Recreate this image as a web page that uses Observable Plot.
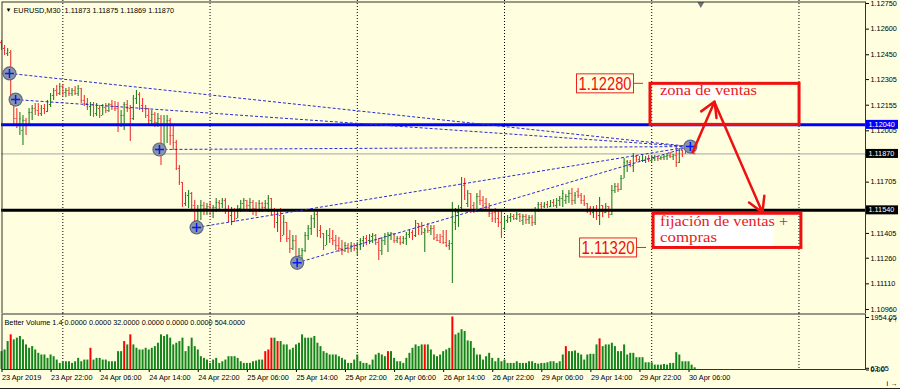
<!DOCTYPE html>
<html lang="es">
<head>
<meta charset="utf-8">
<script src="https://cdn.jsdelivr.net/npm/d3@7"></script>
<script src="https://cdn.jsdelivr.net/npm/@observablehq/plot@0.6"></script>
<style>
html,body{margin:0;padding:0;background:#ffffe0;}
#chart{position:relative;width:900px;height:392px;overflow:hidden;background:#ffffe0;}
#main{position:absolute;left:0;top:0;}
#vol{position:absolute;left:0;top:313px;}
#tabs{position:absolute;left:0;top:388px;width:900px;height:4px;border-top:1px solid #222;background:#fff;}
</style>
</head>
<body>
<div id="chart"><div id="main"></div><div id="vol"></div><div id="tabs"></div></div>
<script>
// ---------- DATA (EURUSD M30, bar index 0 = 23 Apr 2019 14:00) ----------
const opens = [
1.12522,1.12487,1.12458,1.12463,1.12171,1.12077,1.12036,1.12007,1.12066,1.12036,
1.12112,1.12136,1.12124,1.12106,1.12136,1.12118,1.12159,1.12212,1.12241,1.12224,
1.12265,1.12229,1.12241,1.12224,1.12241,1.12224,1.12253,1.12183,1.12165,1.12147,
1.12159,1.12106,1.12136,1.12095,1.12142,1.12124,1.12159,1.12147,1.12136,1.12036,
1.12095,1.12159,1.12136,1.12077,1.12194,1.12218,1.12153,1.12136,1.12095,1.12066,
1.12101,1.12054,1.12077,1.11890,1.12036,1.12066,1.11978,1.11937,1.11785,1.11703,
1.11580,1.11627,1.11639,1.11568,1.11481,1.11539,1.11568,1.11551,1.11562,1.11539,
1.11557,1.11586,1.11580,1.11598,1.11539,1.11510,1.11539,1.11492,1.11551,1.11580,
1.11598,1.11568,1.11586,1.11551,1.11539,1.11580,1.11557,1.11580,1.11609,1.11539,
1.11469,1.11510,1.11393,1.11469,1.11375,1.11317,1.11363,1.11258,1.11276,1.11305,
1.11393,1.11434,1.11492,1.11516,1.11422,1.11404,1.11334,1.11393,1.11375,1.11363,
1.11334,1.11317,1.11305,1.11334,1.11317,1.11334,1.11317,1.11340,1.11363,1.11375,
1.11363,1.11387,1.11393,1.11352,1.11305,1.11363,1.11387,1.11399,1.11404,1.11363,
1.11375,1.11352,1.11375,1.11399,1.11410,1.11393,1.11463,1.11445,1.11410,1.11445,
1.11422,1.11434,1.11381,1.11363,1.11387,1.11352,1.11334,1.11346,1.11469,1.11527,
1.11557,1.11685,1.11580,1.11639,1.11568,1.11539,1.11621,1.11598,1.11580,1.11557,
1.11521,1.11527,1.11492,1.11469,1.11434,1.11481,1.11498,1.11504,1.11492,1.11516,
1.11481,1.11504,1.11486,1.11498,1.11469,1.11539,1.11574,1.11562,1.11574,1.11562,
1.11586,1.11568,1.11598,1.11609,1.11598,1.11621,1.11639,1.11598,1.11650,1.11627,
1.11598,1.11580,1.11551,1.11527,1.11539,1.11510,1.11568,1.11527,1.11562,1.11516,
1.11656,1.11680,1.11662,1.11726,1.11802,1.11820,1.11802,1.11855,1.11837,1.11832,
1.11832,1.11843,1.11832,1.11843,1.11855,1.11843,1.11849,1.11855,1.11861,1.11855,
1.11861,1.11820,1.11890,1.11896,1.11878,1.11902,1.11873];
const highs = [
1.12534,1.12504,1.12487,1.12475,1.12194,1.12136,1.12112,1.12095,1.12077,1.12136,
1.12153,1.12165,1.12165,1.12153,1.12159,1.12183,1.12224,1.12253,1.12270,1.12282,
1.12276,1.12253,1.12259,1.12253,1.12265,1.12270,1.12253,1.12212,1.12194,1.12171,
1.12171,1.12165,1.12153,1.12159,1.12165,1.12165,1.12183,1.12177,1.12171,1.12124,
1.12171,1.12183,1.12153,1.12212,1.12241,1.12229,1.12194,1.12153,1.12136,1.12124,
1.12112,1.12106,1.12095,1.12095,1.12095,1.12077,1.12036,1.11949,1.11802,1.11703,
1.11644,1.11656,1.11644,1.11598,1.11568,1.11598,1.11586,1.11580,1.11586,1.11568,
1.11609,1.11598,1.11609,1.11609,1.11568,1.11557,1.11551,1.11568,1.11598,1.11609,
1.11598,1.11609,1.11598,1.11586,1.11598,1.11586,1.11598,1.11627,1.11609,1.11551,
1.11539,1.11551,1.11510,1.11469,1.11422,1.11393,1.11393,1.11317,1.11317,1.11410,
1.11451,1.11510,1.11527,1.11539,1.11451,1.11404,1.11422,1.11434,1.11422,1.11393,
1.11381,1.11363,1.11352,1.11346,1.11352,1.11346,1.11352,1.11375,1.11387,1.11393,
1.11399,1.11404,1.11399,1.11375,1.11381,1.11404,1.11410,1.11410,1.11404,1.11387,
1.11387,1.11387,1.11410,1.11422,1.11422,1.11481,1.11463,1.11469,1.11434,1.11463,
1.11451,1.11451,1.11399,1.11399,1.11422,1.11422,1.11363,1.11586,1.11551,1.11568,
1.11732,1.11726,1.11656,1.11639,1.11586,1.11639,1.11656,1.11621,1.11609,1.11580,
1.11539,1.11551,1.11539,1.11539,1.11498,1.11510,1.11521,1.11516,1.11527,1.11521,
1.11516,1.11516,1.11510,1.11510,1.11557,1.11586,1.11586,1.11586,1.11592,1.11598,
1.11603,1.11609,1.11621,1.11656,1.11633,1.11656,1.11668,1.11644,1.11668,1.11639,
1.11627,1.11580,1.11562,1.11562,1.11568,1.11615,1.11568,1.11580,1.11562,1.11685,
1.11697,1.11697,1.11744,1.11843,1.11832,1.11832,1.11873,1.11861,1.11855,1.11861,
1.11855,1.11861,1.11861,1.11861,1.11855,1.11855,1.11861,1.11867,1.11878,1.11867,
1.11908,1.11902,1.11890,1.11908,1.11919,1.11919,1.11875];
const lows = [
1.12475,1.12446,1.12440,1.12153,1.12036,1.12019,1.11978,1.11919,1.11978,1.12036,
1.12066,1.12095,1.12089,1.12089,1.12101,1.12112,1.12142,1.12183,1.12206,1.12212,
1.12206,1.12200,1.12206,1.12206,1.12212,1.12206,1.12165,1.12147,1.12124,1.12089,
1.12083,1.12089,1.12077,1.12095,1.12106,1.12112,1.12124,1.12118,1.11995,1.12025,
1.12007,1.12112,1.11943,1.12066,1.12159,1.12124,1.12112,1.12077,1.12036,1.12030,
1.12025,1.12025,1.11802,1.11884,1.11931,1.11919,1.11890,1.11773,1.11685,1.11557,
1.11562,1.11551,1.11539,1.11422,1.11434,1.11481,1.11510,1.11510,1.11510,1.11492,
1.11527,1.11539,1.11551,1.11516,1.11469,1.11451,1.11469,1.11492,1.11527,1.11539,
1.11539,1.11527,1.11510,1.11504,1.11527,1.11527,1.11539,1.11527,1.11510,1.11434,
1.11410,1.11352,1.11393,1.11352,1.11287,1.11305,1.11229,1.11211,1.11205,1.11293,
1.11363,1.11393,1.11434,1.11381,1.11375,1.11305,1.11334,1.11346,1.11334,1.11305,
1.11293,1.11276,1.11293,1.11287,1.11293,1.11299,1.11276,1.11305,1.11322,1.11334,
1.11340,1.11346,1.11334,1.11246,1.11276,1.11334,1.11293,1.11363,1.11346,1.11346,
1.11334,1.11340,1.11334,1.11375,1.11363,1.11381,1.11393,1.11393,1.11293,1.11404,
1.11393,1.11363,1.11358,1.11346,1.11340,1.11322,1.11305,1.11112,1.11422,1.11440,
1.11527,1.11598,1.11557,1.11521,1.11521,1.11527,1.11568,1.11539,1.11539,1.11498,
1.11469,1.11463,1.11440,1.11375,1.11422,1.11463,1.11469,1.11481,1.11481,1.11469,
1.11451,1.11457,1.11457,1.11445,1.11451,1.11527,1.11545,1.11551,1.11551,1.11557,
1.11557,1.11551,1.11562,1.11557,1.11574,1.11580,1.11568,1.11574,1.11609,1.11574,
1.11562,1.11521,1.11510,1.11492,1.11481,1.11451,1.11498,1.11521,1.11492,1.11510,
1.11639,1.11644,1.11656,1.11726,1.11761,1.11791,1.11761,1.11820,1.11820,1.11820,
1.11814,1.11820,1.11820,1.11826,1.11826,1.11832,1.11832,1.11832,1.11843,1.11832,
1.11791,1.11814,1.11849,1.11867,1.11878,1.11878,1.11869];
const closes = [
1.12487,1.12458,1.12475,1.12183,1.12077,1.12036,1.12077,1.12066,1.12036,1.12112,
1.12136,1.12124,1.12106,1.12136,1.12118,1.12159,1.12212,1.12241,1.12224,1.12265,
1.12229,1.12241,1.12224,1.12241,1.12224,1.12253,1.12183,1.12165,1.12147,1.12159,
1.12106,1.12136,1.12095,1.12142,1.12124,1.12159,1.12147,1.12136,1.12036,1.12095,
1.12159,1.12136,1.12077,1.12194,1.12218,1.12153,1.12136,1.12095,1.12066,1.12101,
1.12054,1.12077,1.11890,1.12036,1.12066,1.11978,1.11937,1.11785,1.11703,1.11580,
1.11627,1.11639,1.11568,1.11481,1.11539,1.11568,1.11551,1.11562,1.11539,1.11557,
1.11586,1.11580,1.11598,1.11539,1.11510,1.11539,1.11492,1.11551,1.11580,1.11598,
1.11568,1.11586,1.11551,1.11539,1.11580,1.11557,1.11580,1.11609,1.11539,1.11469,
1.11510,1.11375,1.11469,1.11375,1.11317,1.11363,1.11258,1.11276,1.11305,1.11393,
1.11434,1.11492,1.11516,1.11422,1.11404,1.11334,1.11393,1.11375,1.11363,1.11334,
1.11317,1.11305,1.11334,1.11317,1.11334,1.11317,1.11340,1.11363,1.11375,1.11363,
1.11387,1.11393,1.11352,1.11305,1.11363,1.11387,1.11399,1.11404,1.11363,1.11375,
1.11352,1.11375,1.11399,1.11410,1.11393,1.11463,1.11422,1.11410,1.11422,1.11422,
1.11434,1.11375,1.11363,1.11352,1.11352,1.11334,1.11346,1.11539,1.11527,1.11557,
1.11685,1.11627,1.11639,1.11539,1.11539,1.11621,1.11598,1.11568,1.11557,1.11521,
1.11492,1.11492,1.11469,1.11410,1.11481,1.11498,1.11504,1.11492,1.11516,1.11504,
1.11504,1.11486,1.11498,1.11469,1.11539,1.11574,1.11562,1.11574,1.11562,1.11586,
1.11568,1.11598,1.11609,1.11639,1.11621,1.11639,1.11598,1.11627,1.11627,1.11598,
1.11580,1.11539,1.11527,1.11539,1.11510,1.11568,1.11527,1.11562,1.11516,1.11656,
1.11680,1.11662,1.11726,1.11820,1.11826,1.11802,1.11855,1.11837,1.11832,1.11849,
1.11843,1.11832,1.11849,1.11855,1.11843,1.11849,1.11855,1.11861,1.11855,1.11867,
1.11820,1.11890,1.11861,1.11878,1.11908,1.11890,1.11870];
// Better Volume 1.4 histogram
const volumes = [
665,727,1040,1290,1103,1166,1228,1103,915,790,
852,727,602,540,540,414,540,477,351,226,
288,288,288,226,288,414,288,351,351,790,
351,414,414,351,351,288,288,288,665,665,
1040,915,1290,915,790,727,727,790,727,790,
852,978,1290,1228,1290,1166,915,978,1040,1166,
665,852,1166,852,727,477,414,351,226,351,
414,226,288,351,477,477,477,414,288,226,
226,226,288,313,351,351,665,727,1166,1166,
1040,1040,915,915,727,790,915,978,1290,1166,
1166,1166,1228,978,852,665,602,540,540,540,
477,414,351,226,226,351,540,288,226,226,
163,351,540,602,540,477,665,665,414,288,
288,226,414,602,790,915,852,915,915,915,
727,540,477,540,665,727,790,1954.05,1290,1353,
1479,1416,1065,1040,790,540,540,351,477,602,
414,288,414,288,351,226,226,226,288,226,
226,226,288,288,226,200,226,226,250,288,
288,226,288,540,852,665,665,690,602,540,
351,540,565,565,915,1140,852,915,915,978,
852,665,665,915,540,602,602,439,439,439,
250,250,250,163,163,163,188,163,226,226,
627,540,288,288,288,163,63.05];
const climaxBars = [3,29,40,42,86,87,88,90,126,138,147,184,195];

const timeLabels = ["23 Apr 2019","23 Apr 22:00","24 Apr 06:00","24 Apr 14:00","24 Apr 22:00",
  "25 Apr 06:00","25 Apr 14:00","25 Apr 22:00","26 Apr 06:00","26 Apr 14:00","26 Apr 22:00",
  "29 Apr 06:00","29 Apr 14:00","29 Apr 22:00","30 Apr 06:00"];
const labelBars = [0,16,32,48,64,80,96,112,128,144,160,176,192,208,224];
const dayStartBars = [20,68,116,164,212,260];
const priceTicks = [1.12750,1.12600,1.12450,1.12305,1.12155,1.12005,1.11705,1.11405,1.11260,1.11110,1.10960];
const volumeTicks = [1954.05,63.05,0];
const headerText = "EURUSD,M30  1.11873 1.11875 1.11869 1.11870";
const volumeHeader = "Better Volume 1.4 0.0000 0.0000 32.0000 0.0000 0.0000 0.0000 504.0000";

const resistanceLevel = 1.12040;
const supportLevel = 1.11540;
const markedLevels = [1.12040, 1.11870, 1.11540];
const shiftBar = 228;

const trendStartBars = [2.6, 4.6, 51.5, 63.6, 96.4];
const trendStartPrices = [1.12341, 1.12188, 1.11896, 1.11440, 1.11233];
const trendEndBar = 224.6;
const trendEndPrice = 1.11913;

const zoneStartBars = [211.6, 212.6];
const zoneEndBars = [260.2, 260.8];
const zoneTops = [1.12280, 1.11520];
const zoneBottoms = [1.12040, 1.11320];
const zoneLabels = [["zona de ventas"], ["fijación de ventas +", "compras"]];
const tagPrices = [1.12280, 1.11320];

const arrowFromBars = [225.3, 232.5];
const arrowFromPrices = [1.11879, 1.12171];
const arrowToBars = [232.5, 248.1];
const arrowToPrices = [1.12177, 1.11528];

// ---------- BUILD ----------
const FONT = '"Liberation Sans", Arial, sans-serif';
const SERIF = '"Liberation Serif", "Times New Roman", serif';
const xDomain = [0, 281.7];
const upColor = "#23811f", downColor = "#ef3535";
const bars = opens.map((o, i) => ({i, o, h: highs[i], l: lows[i], c: closes[i]}));
const barColor = d => d.c >= d.o ? upColor : downColor;
const vols = volumes.map((v, i) => ({i, v, climax: climaxBars.includes(i)}));
const trends = trendStartBars.map((b, k) => ({x1: b, y1: trendStartPrices[k], x2: trendEndBar, y2: trendEndPrice}));
const circles = trendStartBars.map((b, k) => ({x: b, y: trendStartPrices[k]})).concat([{x: trendEndBar, y: trendEndPrice}]);
const zones = zoneStartBars.map((s, k) => ({x1: s, x2: zoneEndBars[k], y1: zoneTops[k], y2: zoneBottoms[k]}));
const arrows = arrowFromBars.map((b, k) => ({x1: b, y1: arrowFromPrices[k], x2: arrowToBars[k], y2: arrowToPrices[k]}));

function findArgs(args) {
  const scales = args.find(a => a && typeof a.x === "function" && typeof a.y === "function");
  const dims = args.find(a => a && typeof a.width === "number" && typeof a.marginLeft === "number");
  return {s: scales, dims};
}

function addText(g, x, y, str, style, fill, len) {
  const t = g.append("text").attr("x", x).attr("y", y).attr("fill", fill)
    .attr("text-anchor", "start").attr("style", style + ";text-anchor:start").text(str);
  if (len) t.attr("textLength", len).attr("lengthAdjust", "spacingAndGlyphs");
  return t;
}

function annotationLayer(...args) {
  const {s} = findArgs(args);
  const g = d3.create("svg:g");
  const red = "#e8201c";
  const serif = `font-family:${SERIF};font-size:15.5px`;
  // zone 1 label
  let x0 = s.x(zoneStartBars[0]), y0 = s.y(zoneTops[0]);
  g.append("rect").attr("x", x0 + 7).attr("y", y0 + 2.6).attr("width", 88).attr("height", 14).attr("fill", "#fff");
  addText(g, x0 + 10, y0 + 11.8, zoneLabels[0][0], serif, red, 97);
  // zone 2 label
  x0 = s.x(zoneStartBars[1]); y0 = s.y(zoneTops[1]);
  const yb = s.y(zoneBottoms[1]);
  g.append("rect").attr("x", x0 + 2).attr("y", y0 + 2).attr("width", 118).attr("height", yb - y0 - 3.5).attr("fill", "#fff");
  addText(g, x0 + 7, y0 + 13, zoneLabels[1][0], serif, red, 128);
  addText(g, x0 + 7, y0 + 29, zoneLabels[1][1], serif, red, 57);
  // price tags on the left of the zones
  tagPrices.forEach((p, k) => {
    const x = s.x(zoneStartBars[k]), y = s.y(p);
    g.append("rect").attr("x", x - 73.5).attr("y", y - 9.5).attr("width", 57).attr("height", 19)
      .attr("fill", "none").attr("stroke", "#ee2222").attr("stroke-width", 1);
    addText(g, x - 71.5, y + 6.2, p.toFixed(5), `font-family:${FONT};font-size:17.5px`, "#ee1111", 53);
    g.append("line").attr("x1", x - 16.5).attr("x2", x - 7).attr("y1", y).attr("y2", y)
      .attr("stroke", "#ee2222").attr("stroke-width", 1);
  });
  return g.node();
}

function priceBoxLayer(...args) {
  const {s, dims} = findArgs(args);
  const x0 = dims.width - dims.marginRight + 1;
  const g = d3.create("svg:g");
  markedLevels.forEach((p, k) => {
    const y = s.y(p);
    g.append("rect").attr("x", x0).attr("y", y - 4.5).attr("width", 32).attr("height", 9)
      .attr("fill", k === 0 ? "#0000ff" : "#000");
    addText(g, x0 + 2.5, y + 2.6, p.toFixed(5), `font-family:${FONT};font-size:7.3px`, "#fff");
  });
  return g.node();
}

const main = Plot.plot({
  width: 900, height: 313,
  marginLeft: 1, marginRight: 35, marginTop: 0, marginBottom: 0,
  x: {domain: xDomain, axis: null},
  y: {domain: [1.109366, 1.127675], axis: null},
  style: {background: "#ffffe0", fontFamily: FONT, fontSize: "7.3px", color: "#000", overflow: "visible"},
  marks: [
    Plot.ruleX(dayStartBars, {stroke: "#000", strokeDasharray: "1,2", strokeWidth: 1}),
    Plot.ruleY([closes[closes.length - 1]], {stroke: "#a4a4a4", strokeWidth: 1}),
    Plot.ruleX(bars, {x: "i", y1: "l", y2: "h", stroke: barColor, strokeWidth: 1.1}),
    Plot.ruleY(bars, {y: "o", x1: d => d.i - 0.35, x2: "i", stroke: barColor}),
    Plot.ruleY(bars, {y: "c", x1: "i", x2: d => d.i + 0.35, stroke: barColor}),
    Plot.ruleY([supportLevel], {stroke: "#000", strokeWidth: 3}),
    Plot.ruleY([resistanceLevel], {stroke: "#0000ff", strokeWidth: 3}),
    Plot.link(trends, {x1: "x1", y1: "y1", x2: "x2", y2: "y2", stroke: "#2a2ad6", strokeWidth: 1, strokeDasharray: "3,2"}),
    Plot.dot(circles, {x: "x", y: "y", r: 6.5, fill: "#8a94a6", stroke: "#5e6c84", strokeWidth: 1.2}),
    Plot.dot(circles, {x: "x", y: "y", r: 3, symbol: "plus", stroke: "#0018ff", strokeWidth: 1.5}),
    Plot.rect(zones, {x1: "x1", x2: "x2", y1: "y1", y2: "y2", fill: "none", stroke: "#ee1111", strokeWidth: 3}),
    annotationLayer,
    Plot.arrow(arrows, {x1: "x1", y1: "y1", x2: "x2", y2: "y2", stroke: "#ee1111", strokeWidth: 2.5, headLength: 10}),
    priceBoxLayer,
    Plot.axisY(priceTicks, {anchor: "right", tickSize: 3, tickPadding: 2, tickFormat: d => d.toFixed(5), fontSize: 7.3}),
    Plot.text(["▼"], {frameAnchor: "top-left", dx: 4, dy: 7, fontSize: 6}),
    Plot.text([headerText], {frameAnchor: "top-left", dx: 12, dy: 7, textAnchor: "start"}),
    Plot.dot([shiftBar], {x: d => d, frameAnchor: "top", dy: 3.5, symbol: "triangle", rotate: 180, r: 2.6, fill: "#707070"}),
    Plot.frame({stroke: "#333", insetTop: 1.5, insetLeft: 0.5})
  ]
});
document.getElementById("main").appendChild(main);

const vol = Plot.plot({
  width: 900, height: 75,
  marginLeft: 1, marginRight: 35, marginTop: 0, marginBottom: 19,
  x: {domain: xDomain, axis: null},
  y: {domain: [0, 2084], axis: null},
  style: {background: "#ffffe0", fontFamily: FONT, fontSize: "7.3px", color: "#000", overflow: "visible"},
  marks: [
    Plot.ruleX(dayStartBars, {stroke: "#000", strokeDasharray: "1,2", strokeWidth: 1}),
    Plot.ruleX(vols, {x: "i", y1: 0, y2: "v", stroke: d => d.climax ? "#ff0000" : "#14851a", strokeWidth: 2}),
    Plot.axisX(labelBars, {anchor: "bottom", tickSize: 3, tickPadding: 2.5, textAnchor: "start", dx: 0.5,
      tickFormat: d => timeLabels[labelBars.indexOf(d)], fontSize: 7.3}),
    Plot.axisY(volumeTicks, {anchor: "right", tickSize: 3, tickPadding: 2, tickFormat: d => d.toFixed(2), fontSize: 7.3, dy: 0.5}),
    Plot.text([volumeHeader], {frameAnchor: "top-left", dx: 3, dy: 6, textAnchor: "start"}),
    Plot.frame({stroke: "#333", insetTop: 0.5, insetLeft: 0.5})
  ]
});
document.getElementById("vol").appendChild(vol);
</script>
</body>
</html>
